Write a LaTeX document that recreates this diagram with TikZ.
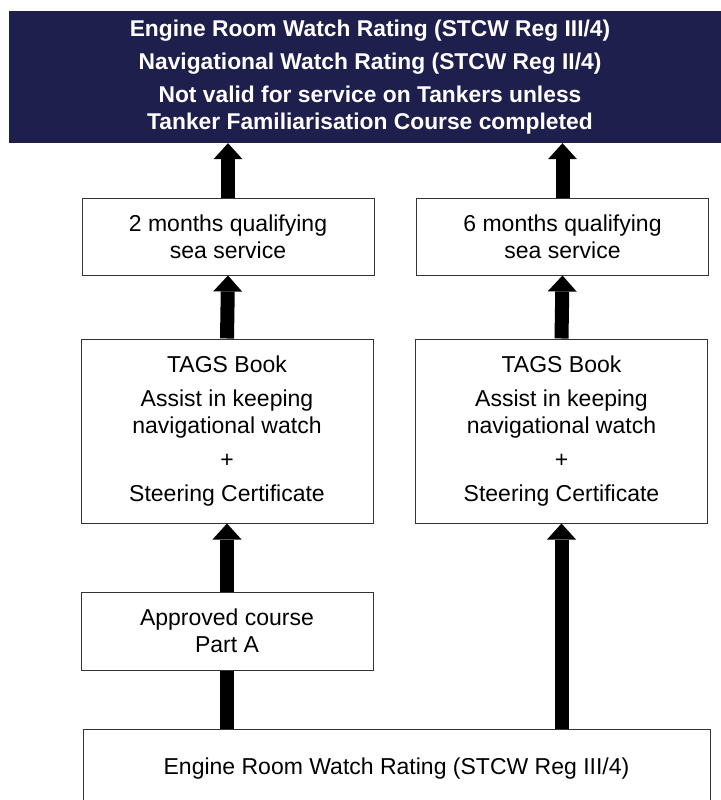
\documentclass[tikz,border=0pt]{standalone}
\usepackage{fontspec}
\setmainfont{Liberation Sans}
\usetikzlibrary{arrows.meta}
\definecolor{navy}{RGB}{31,31,77}
\tikzset{
        box/.style={draw=black!80, line width=1pt, fill=white, align=center, inner sep=0pt,
                minimum width=292pt, font=\fontsize{23}{27}\selectfont},
        up/.style={line width=14pt, -{Triangle[width=29pt, length=16pt, line width=0pt 0]}},
        bar/.style={line width=14pt},
}
\begin{document}
\begin{tikzpicture}[x=1pt, y=-1pt]
        \useasboundingbox (0,0) rectangle (720,800);
        % final rating
        \node[fill=navy, text=white, inner sep=0pt, align=center, minimum width=722pt, minimum height=132pt,
                font=\bfseries\fontsize{22.8}{27}\selectfont] (rating) at (370,77)
                {Engine Room Watch Rating (STCW Reg III/4)\\[6pt]
                 Navigational Watch Rating (STCW Reg II/4)\\[6pt]
                 Not valid for service on Tankers unless\\
                 Tanker Familiarisation Course completed};
        % left column
        \node[box, minimum height=77pt] (twomonths) at (228,236.5) {2 months qualifying\\ sea service};
        \node[box, minimum height=184pt] (tagsleft) at (227,431)
                {TAGS Book\\[7pt] Assist in keeping\\ navigational watch\\[7pt] +\\[7pt] Steering Certificate};
        \node[box, minimum height=78pt] (parta) at (227,631) {Approved course\\ Part A};
        % right column
        \node[box, minimum height=77pt] (sixmonths) at (562.5,236.5) {6 months qualifying\\ sea service};
        \node[box, minimum height=184pt] (tagsright) at (561.5,431)
                {TAGS Book\\[7pt] Assist in keeping\\ navigational watch\\[7pt] +\\[7pt] Steering Certificate};
        % starting rating
        \node[box, minimum width=627pt, minimum height=80pt] (start) at (396.5,769)
                {Engine Room Watch Rating (STCW Reg III/4)};

        \draw[bar] (parta.south |- start.north) -- (parta.south);
        \draw[up] (parta.north) -- (tagsleft.south);
        \draw[up] (tagsleft.north) -- (twomonths.south);
        \draw[up] (twomonths.north) -- (twomonths.north |- rating.south);
        \draw[up] (tagsright.south |- start.north) -- (tagsright.south);
        \draw[up] (tagsright.north) -- (sixmonths.south);
        \draw[up] (sixmonths.north) -- (sixmonths.north |- rating.south);
\end{tikzpicture}
\end{document}
